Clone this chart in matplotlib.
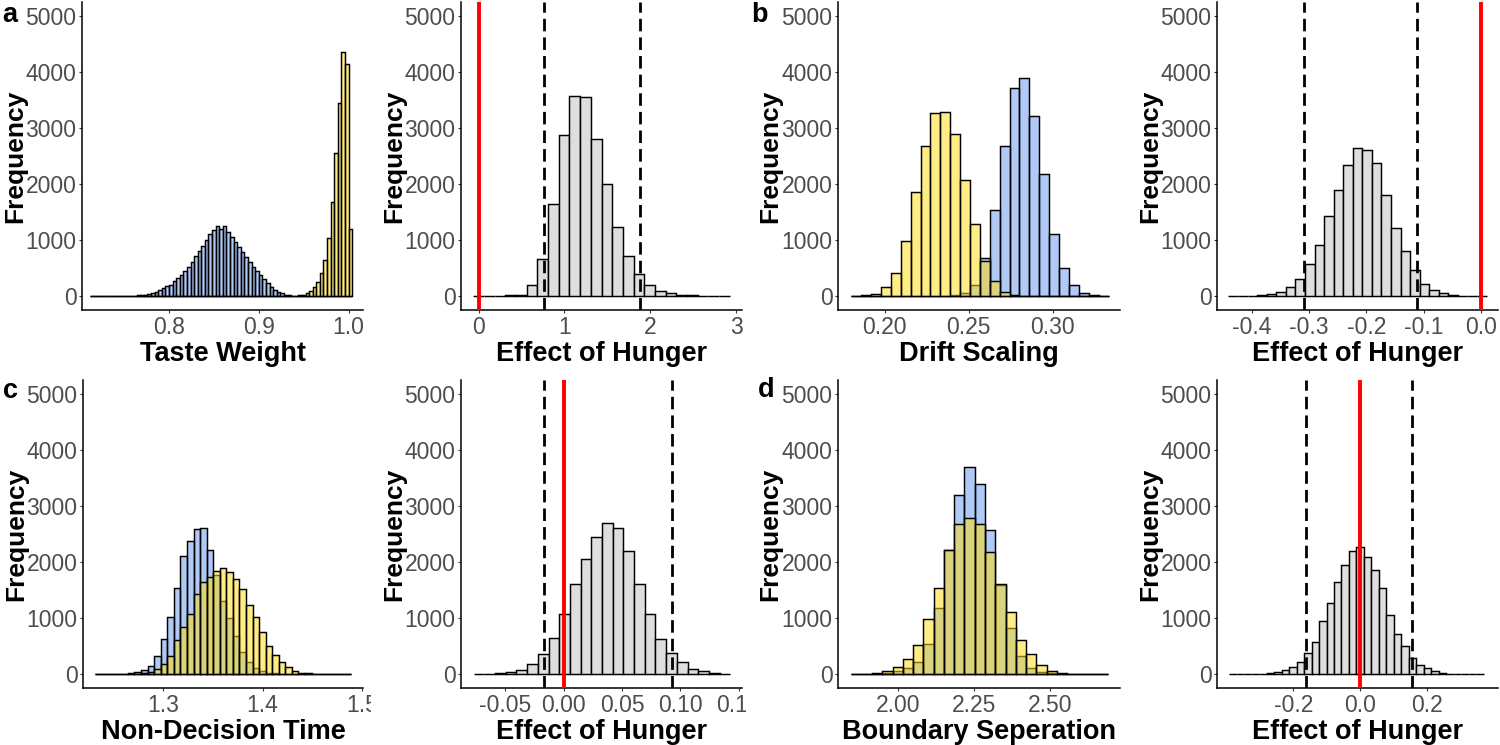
import numpy as np
import matplotlib
matplotlib.use('Agg')
from matplotlib import pyplot as plt
from matplotlib.transforms import Bbox, TransformedBbox

plt.rcParams['font.family'] = ['Liberation Sans', 'DejaVu Sans']
plt.rcParams['axes.unicode_minus'] = False

## data: bin start, bin width and counts per histogram
# a: taste weight
taste_start, taste_width = 0.712, 0.004
taste_blue = [0]*8 + [1, 2, 3, 5, 8, 12, 18, 25, 35, 45, 70, 100, 150, 170, 190, 270, 330, 380,
                      440, 510, 600, 710, 800, 890, 1000, 1100, 1180, 1245, 1190, 1245, 1150, 1060,
                      970, 880, 790, 700, 610, 520, 440, 370, 300, 230, 160, 110, 70, 45, 25, 12,
                      6, 3, 1] + [0]*14
taste_yellow = [0]*55 + [1, 2, 5, 12, 25, 50, 95, 165, 255, 415, 640, 1040, 1680, 2550, 3440,
                         4360, 4150, 1200]
taste_eff_start, taste_eff_width = -0.063, 0.1246
taste_eff = [0, 0, 2, 10, 25, 196, 652, 1637, 2870, 3565, 3559, 2805, 1993, 1234, 706, 391,
             190, 95, 53, 24, 12, 5, 2, 1]
taste_ci = [0.758, 1.885]

# b: drift scaling
drift_start, drift_width = 0.1801, 0.005888
drift_blue = [0]*9 + [3, 10, 50, 196, 680, 1542, 2680, 3713, 3897, 3209, 2183, 1115, 492, 196,
                      59, 18, 5]
drift_yellow = [3, 10, 30, 154, 415, 985, 1850, 2675, 3262, 3286, 2894, 2064, 1293, 620, 270,
                80, 20, 5, 1] + [0]*7
drift_eff_start, drift_eff_width = -0.4410, 0.016715
drift_eff = [0, 1, 5, 15, 30, 70, 155, 300, 575, 910, 1430, 1900, 2340, 2640, 2600, 2370, 1800,
             1210, 810, 470, 210, 110, 50, 20, 8, 3, 1]
drift_ci = [-0.3087, -0.1122]

# c: non-decision time
ndt_start, ndt_width = 1.2315, 0.0066
ndt_blue = [0, 0, 1, 2, 5, 12, 30, 70, 150, 320, 624, 1010, 1540, 2103, 2376, 2590, 2600, 2221,
            1764, 1300, 1000, 680, 390, 210, 110, 55, 25, 10, 4, 1] + [0]*9
ndt_yellow = [0, 0, 0, 0, 1, 3, 8, 18, 40, 83, 172, 321, 606, 832, 1063, 1426, 1640, 1740, 1841,
              1895, 1824, 1705, 1509, 1230, 1022, 754, 499, 339, 220, 131, 59, 24, 10, 4, 2, 1,
              0, 0, 0]
ndt_eff_start, ndt_eff_width = -0.0771, 0.009167
ndt_eff = [0, 5, 10, 30, 70, 180, 360, 650, 1080, 1600, 2060, 2440, 2690, 2600, 2190, 1610,
           1070, 630, 380, 210, 90, 45, 12, 5]
ndt_ci = [-0.0166, 0.0929]

# d: boundary separation
bound_start, bound_width = 1.8462, 0.033846
bound_blue = [0, 0, 3, 10, 60, 100, 210, 540, 1180, 2210, 3200, 3700, 3390, 2580, 1590, 820,
              320, 110, 40, 10, 3, 1, 0, 0, 0]
bound_yellow = [1, 5, 15, 45, 120, 270, 520, 980, 1530, 2220, 2670, 2780, 2680, 2180, 1600,
                1110, 600, 350, 160, 60, 15, 5, 1, 0, 0]
bound_eff_start, bound_eff_width = -0.392, 0.0224
bound_eff = [0, 0, 1, 2, 5, 12, 30, 70, 120, 220, 370, 580, 950, 1270, 1640, 1940, 2200, 2270,
             2090, 1850, 1530, 1060, 720, 500, 290, 160, 100, 45, 20, 8, 3, 1, 0, 0]
bound_ci = [-0.161, 0.156]

zero_line = 0.0

BLUE = (100/255, 149/255, 237/255, 0.5)
YELLOW = (1.0, 220/255, 20/255, 0.52)
GREY = '#DEDEDE'

W, H = 1500, 745
fig = plt.figure(figsize=(15, 7.45), dpi=100)


def make_ax(left_px, top_px, width_px, height_px=308):
    return fig.add_axes([left_px / W, 1 - (top_px + height_px) / H, width_px / W, height_px / H])


def draw_hist(ax, start, width, counts, color):
    edges = start + width * np.arange(len(counts))
    ax.bar(edges, counts, width=width, align='edge', color=color,
           edgecolor='black', linewidth=1.05)


def style(ax, xlim, ticks, labels, xlabel):
    ax.set_xlim(*xlim)
    ax.set_ylim(-250, 5250)
    ax.set_yticks([0, 1000, 2000, 3000, 4000, 5000])
    ax.set_xticks(ticks)
    ax.set_xticklabels(labels)
    for s in ['top', 'right']:
        ax.spines[s].set_visible(False)
    for s in ['left', 'bottom']:
        ax.spines[s].set_linewidth(1.1)
    ax.tick_params(labelsize=16.5, labelcolor='#4D4D4D', color='#333333',
                   length=2.5, width=0.8, pad=1.5)
    ax.set_xlabel(xlabel, fontsize=19.5, fontweight='bold')
    ax.set_ylabel('Frequency', fontsize=19, fontweight='bold')
    ax.xaxis.set_label_coords(0.5, -0.1)
    ax.yaxis.set_label_coords(-0.196, 0.5)
    ax.xaxis.label.set_va('top')


def ref_lines(ax, ci):
    for v in ci:
        ax.axvline(v, color='black', linewidth=2.0, linestyle=(0, (4.5, 2.2)), zorder=4)
    ax.axvline(zero_line, color='#FF0000', linewidth=2.8, zorder=5)


def clip_labels(ax, right_px):
    box = TransformedBbox(Bbox([[0, 0], [right_px / W, 1]]), fig.transFigure)
    for t in ax.xaxis.get_major_ticks():
        t.label1.set_clip_box(box)
        t.label1.set_clip_on(True)


## top row
ax1 = make_ax(82, 2, 281)
draw_hist(ax1, taste_start, taste_width, taste_blue, BLUE)
draw_hist(ax1, taste_start, taste_width, taste_yellow, YELLOW)
style(ax1, (0.7032, 1.016), [0.8, 0.9, 1.0], ['0.8', '0.9', '1.0'], 'Taste Weight')

ax2 = make_ax(461, 2, 281)
draw_hist(ax2, taste_eff_start, taste_eff_width, taste_eff, GREY)
ref_lines(ax2, taste_ci)
style(ax2, (-0.206, 3.07), [0, 1, 2, 3], ['0', '1', '2', '3'], 'Effect of Hunger')

ax3 = make_ax(838, 2, 282)
draw_hist(ax3, drift_start, drift_width, drift_blue, BLUE)
draw_hist(ax3, drift_start, drift_width, drift_yellow, YELLOW)
style(ax3, (0.1722, 0.340), [0.20, 0.25, 0.30], ['0.20', '0.25', '0.30'], 'Drift Scaling')

ax4 = make_ax(1217, 2, 281)
draw_hist(ax4, drift_eff_start, drift_eff_width, drift_eff, GREY)
ref_lines(ax4, drift_ci)
style(ax4, (-0.461, 0.0302), [-0.4, -0.3, -0.2, -0.1, 0.0],
      ['-0.4', '-0.3', '-0.2', '-0.1', '0.0'], 'Effect of Hunger')

## bottom row
ax5 = make_ax(83, 380, 280)
draw_hist(ax5, ndt_start, ndt_width, ndt_blue, BLUE)
draw_hist(ax5, ndt_start, ndt_width, ndt_yellow, YELLOW)
style(ax5, (1.2193, 1.501), [1.3, 1.4, 1.5], ['1.3', '1.4', '1.5'], 'Non-Decision Time')
clip_labels(ax5, 371)

ax6 = make_ax(461, 380, 281)
draw_hist(ax6, ndt_eff_start, ndt_eff_width, ndt_eff, GREY)
ref_lines(ax6, ndt_ci)
style(ax6, (-0.088, 0.1529), [-0.05, 0.0, 0.05, 0.10, 0.15],
      ['-0.05', '0.00', '0.05', '0.10', '0.15'], 'Effect of Hunger')
clip_labels(ax6, 746)

ax7 = make_ax(838, 380, 282)
draw_hist(ax7, bound_start, bound_width, bound_blue, BLUE)
draw_hist(ax7, bound_start, bound_width, bound_yellow, YELLOW)
style(ax7, (1.802, 2.731), [2.0, 2.25, 2.5], ['2.00', '2.25', '2.50'], 'Boundary Seperation')

ax8 = make_ax(1217, 380, 281)
draw_hist(ax8, bound_eff_start, bound_eff_width, bound_eff, GREY)
ref_lines(ax8, bound_ci)
style(ax8, (-0.429, 0.413), [-0.2, 0.0, 0.2], ['-0.2', '0.0', '0.2'], 'Effect of Hunger')

## panel letters
for letter, x, y in [('a', 10, 15), ('b', 759, 15), ('c', 10, 391), ('d', 766, 390)]:
    fig.text(x / W, 1 - y / H, letter, fontsize=19.5, fontweight='bold', ha='center', va='center')

fig.savefig('out.png', dpi=100)
